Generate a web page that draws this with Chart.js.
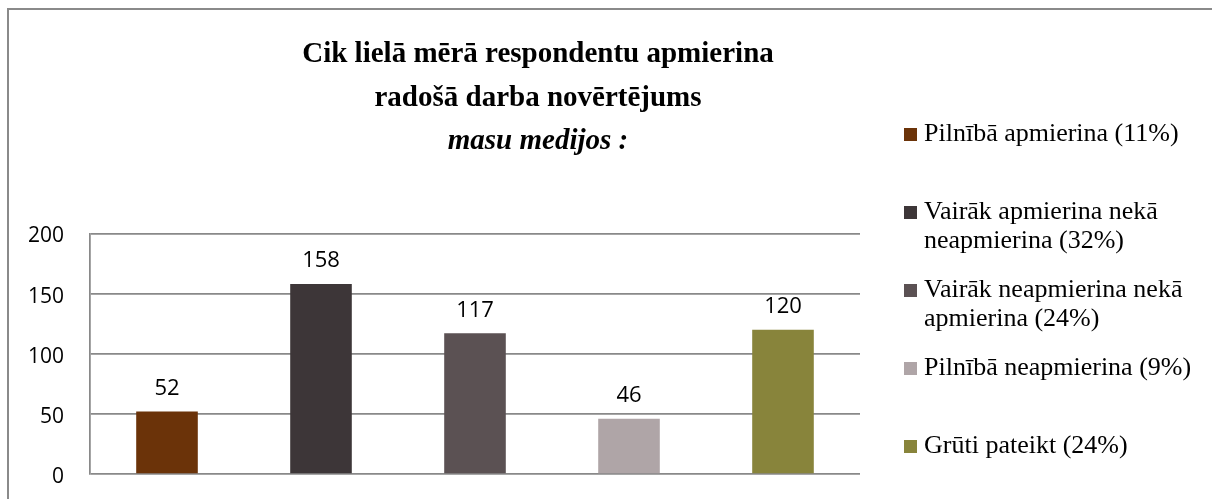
<!DOCTYPE html>
<html>
<head>
<meta charset="utf-8">
<script src="https://cdn.jsdelivr.net/npm/chart.js@4.4.0/dist/chart.umd.min.js"></script>
<style>
  html, body { margin: 0; padding: 0; background: #fff; }
  body { width: 1212px; height: 499px; position: relative; overflow: hidden; }
  .frame {
    position: absolute; left: 7px; top: 8px; right: 0; bottom: 0;
    border-top: 2px solid #8a8a8a; border-left: 2px solid #8a8a8a;
    pointer-events: none;
  }
  .chart-box { position: absolute; left: 0; top: 0; width: 1076px; height: 499px; }
  .legend { position: absolute; left: 904px; top: 117.5px; }
  .legend-item { position: relative; height: 78px; }
  .legend-mark { position: absolute; left: 0; top: 10px; width: 13px; height: 13px; }
  .legend-text {
    margin-left: 20px; width: 285px;
    font: 26px "Liberation Serif", "Times New Roman", serif;
    line-height: 29.5px; color: #000;
  }
</style>
</head>
<body>
<div class="frame"></div>
<div class="chart-box"><canvas id="chart"></canvas></div>
<div class="legend" id="legend"></div>
<script>
// answers, bar heights and colours
const categories = [
  'Pilnībā apmierina (11%)',
  'Vairāk apmierina nekā neapmierina (32%)',
  'Vairāk neapmierina nekā apmierina (24%)',
  'Pilnībā neapmierina (9%)',
  'Grūti pateikt (24%)'
];
const counts = [52, 158, 117, 46, 120];
const barColors = ['#6b3309', '#3d3638', '#5b5153', '#afa5a7', '#88843b'];
const titleLines = ['Cik lielā mērā respondentu apmierina', 'radošā darba novērtējums'];
const subtitleText = 'masu medijos :';
const yMin = 0, yMax = 200, yStep = 50;

// html legend on the right, one slot per answer
const legendEl = document.getElementById('legend');
categories.forEach((label, i) => {
  const item = document.createElement('div');
  item.className = 'legend-item';
  const mark = document.createElement('div');
  mark.className = 'legend-mark';
  mark.style.background = barColors[i];
  const text = document.createElement('div');
  text.className = 'legend-text';
  text.textContent = label;
  item.appendChild(mark);
  item.appendChild(text);
  legendEl.appendChild(item);
});

// value labels above each bar
const valueLabels = {
  id: 'valueLabels',
  afterDatasetsDraw(chart) {
    const ctx = chart.ctx;
    const meta = chart.getDatasetMeta(0);
    ctx.save();
    ctx.font = '22px "Open Sans", sans-serif';
    ctx.fillStyle = '#000';
    ctx.textAlign = 'center';
    ctx.textBaseline = 'middle';
    meta.data.forEach((bar, i) => {
      ctx.fillText(String(counts[i]), bar.x, bar.y - 23);
    });
    ctx.restore();
  }
};

const gridGray = '#898989';
const serif = '"Liberation Serif", "Times New Roman", serif';

new Chart(document.getElementById('chart').getContext('2d'), {
  type: 'bar',
  data: {
    labels: categories,
    datasets: [{
      data: counts,
      backgroundColor: barColors,
      borderWidth: 0,
      barPercentage: 0.4,
      categoryPercentage: 1
    }]
  },
  options: {
    responsive: true,
    maintainAspectRatio: false,
    animation: false,
    layout: { padding: { left: 0, right: 0, top: 0, bottom: 25 } },
    plugins: {
      legend: { display: false },
      tooltip: { enabled: false },
      title: {
        display: true,
        text: titleLines,
        color: '#000',
        font: { family: serif, size: 29, weight: 'bold', lineHeight: 1.5 },
        padding: { top: 33, bottom: 0 }
      },
      subtitle: {
        display: true,
        text: subtitleText,
        color: '#000',
        font: { family: serif, size: 29, weight: 'bold', style: 'italic', lineHeight: 1.5 },
        padding: { top: 0, bottom: 70 }
      }
    },
    scales: {
      x: {
        display: false
      },
      y: {
        min: yMin,
        max: yMax,
        afterFit: (scale) => { scale.width = 90; },
        ticks: {
          stepSize: yStep,
          padding: 10,
          labelOffset: 3,
          color: '#000',
          font: { family: '"Open Sans", sans-serif', size: 21 }
        },
        // invisible tick marks just push the labels away from the axis
        grid: { color: gridGray, lineWidth: 1.75, tickLength: 16, tickColor: 'rgba(0,0,0,0)' },
        border: { display: true, color: gridGray, width: 1.75 }
      },
      // empty space on the right where the legend sits, keeps the title centred like the original
      gap: {
        type: 'linear',
        position: 'right',
        afterFit: (scale) => { scale.width = 216; },
        ticks: { display: false },
        grid: { display: false, drawTicks: false },
        border: { display: false }
      }
    }
  },
  plugins: [valueLabels]
});
</script>
</body>
</html>
